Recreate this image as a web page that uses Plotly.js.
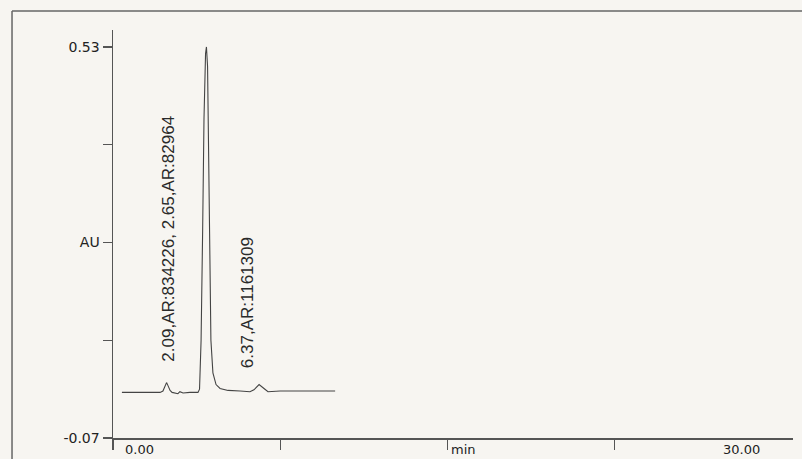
<!DOCTYPE html>
<html>
<head>
<meta charset="utf-8">
<script src="https://cdn.plot.ly/plotly-3.0.1.min.js"></script>
<style>
html,body{margin:0;padding:0;background:#f7f5f1;}
#chart{width:802px;height:459px;}
</style>
</head>
<body>
<div id="chart"></div>
<script>
// Retention time (min) and absorbance (AU)
const timeMin = [0.40, 1.21, 2.11, 2.24, 2.33, 2.40, 2.47, 2.56, 2.65, 2.83, 2.91, 3.00, 3.14, 3.45, 3.81, 3.88, 3.95, 4.02, 4.08, 4.15, 4.19, 4.24, 4.30, 4.35, 4.39, 4.48, 4.62, 4.80, 5.16, 5.70, 6.14, 6.32, 6.55, 6.77, 6.95, 7.49, 8.39, 9.28, 9.96];
const absorbance = [0.000, 0.000, 0.000, 0.002, 0.010, 0.015, 0.010, 0.003, 0.000, -0.001, -0.002, 0.001, -0.001, 0.000, 0.000, 0.005, 0.080, 0.250, 0.420, 0.520, 0.530, 0.500, 0.350, 0.180, 0.080, 0.030, 0.012, 0.006, 0.003, 0.002, 0.001, 0.004, 0.012, 0.006, 0.001, 0.002, 0.002, 0.002, 0.002];

// Axis ticks and labels
const xTickVals = [0, 7.5, 15, 22.5];
const xLabels = ['0.00', 'min', '30.00'];
const xLabelPos = [1.19, 15.7, 28.18];
const yTickVals = [0.53, 0.38, 0.23, 0.08, -0.07];
const yTickText = ['0.53', '', 'AU', '', '-0.07'];

// Peak labels
const peakLabels = ['2.09,AR:834226, 2.65,AR:82964', '6.37,AR:1161309'];
const peakLabelX = [2.47, 6.01];
const peakLabelY = [0.236, 0.137];

const axisColor = '#555';
const labelFont = {family: 'DejaVu Sans, Arial, sans-serif', size: 13, color: '#222'};

const annotations = [];
xLabels.forEach((t, i) => annotations.push({
  text: t, x: xLabelPos[i], xref: 'x', y: -0.027, yref: 'paper',
  xanchor: 'center', yanchor: 'middle', showarrow: false, font: labelFont
}));
peakLabels.forEach((t, i) => annotations.push({
  text: t, x: peakLabelX[i], xref: 'x', y: peakLabelY[i], yref: 'y',
  xanchor: 'center', yanchor: 'middle', textangle: -90, showarrow: false,
  font: {family: 'Liberation Sans, Arial, sans-serif', size: 17, color: '#2a2a2a'}
}));

const trace = {
  x: timeMin, y: absorbance, type: 'scatter', mode: 'lines',
  line: {color: '#444', width: 1.1}, hoverinfo: 'skip'
};

const layout = {
  width: 802, height: 459,
  margin: {l: 113, r: 9, t: 30, b: 21},
  paper_bgcolor: '#f7f5f1', plot_bgcolor: 'rgba(0,0,0,0)',
  showlegend: false,
  xaxis: {
    range: [0, 30.49], showgrid: false, zeroline: false,
    showline: true, linecolor: axisColor, linewidth: 1.5,
    ticks: 'outside', ticklen: 10, tickcolor: axisColor, tickwidth: 1.2,
    tickvals: xTickVals, showticklabels: false, fixedrange: true
  },
  yaxis: {
    range: [-0.07, 0.556], showgrid: false, zeroline: false,
    showline: true, linecolor: axisColor, linewidth: 1.5,
    ticks: 'outside', ticklen: 9, tickcolor: axisColor, tickwidth: 1.2,
    tickvals: yTickVals, ticktext: yTickText,
    tickfont: {family: 'DejaVu Sans, Arial, sans-serif', size: 14, color: '#222'},
    fixedrange: true
  },
  annotations: annotations,
  shapes: [
    {type: 'line', xref: 'paper', yref: 'paper', x0: -0.1485, x1: -0.1485, y0: 1.0466, y1: -0.06,
     line: {color: '#666', width: 1.5}},
    {type: 'line', xref: 'paper', yref: 'paper', x0: -0.1485, x1: 1.02, y0: 1.0466, y1: 1.0466,
     line: {color: '#666', width: 1.5}}
  ]
};

Plotly.newPlot('chart', [trace], layout, {displayModeBar: false, staticPlot: true});
</script>
</body>
</html>
